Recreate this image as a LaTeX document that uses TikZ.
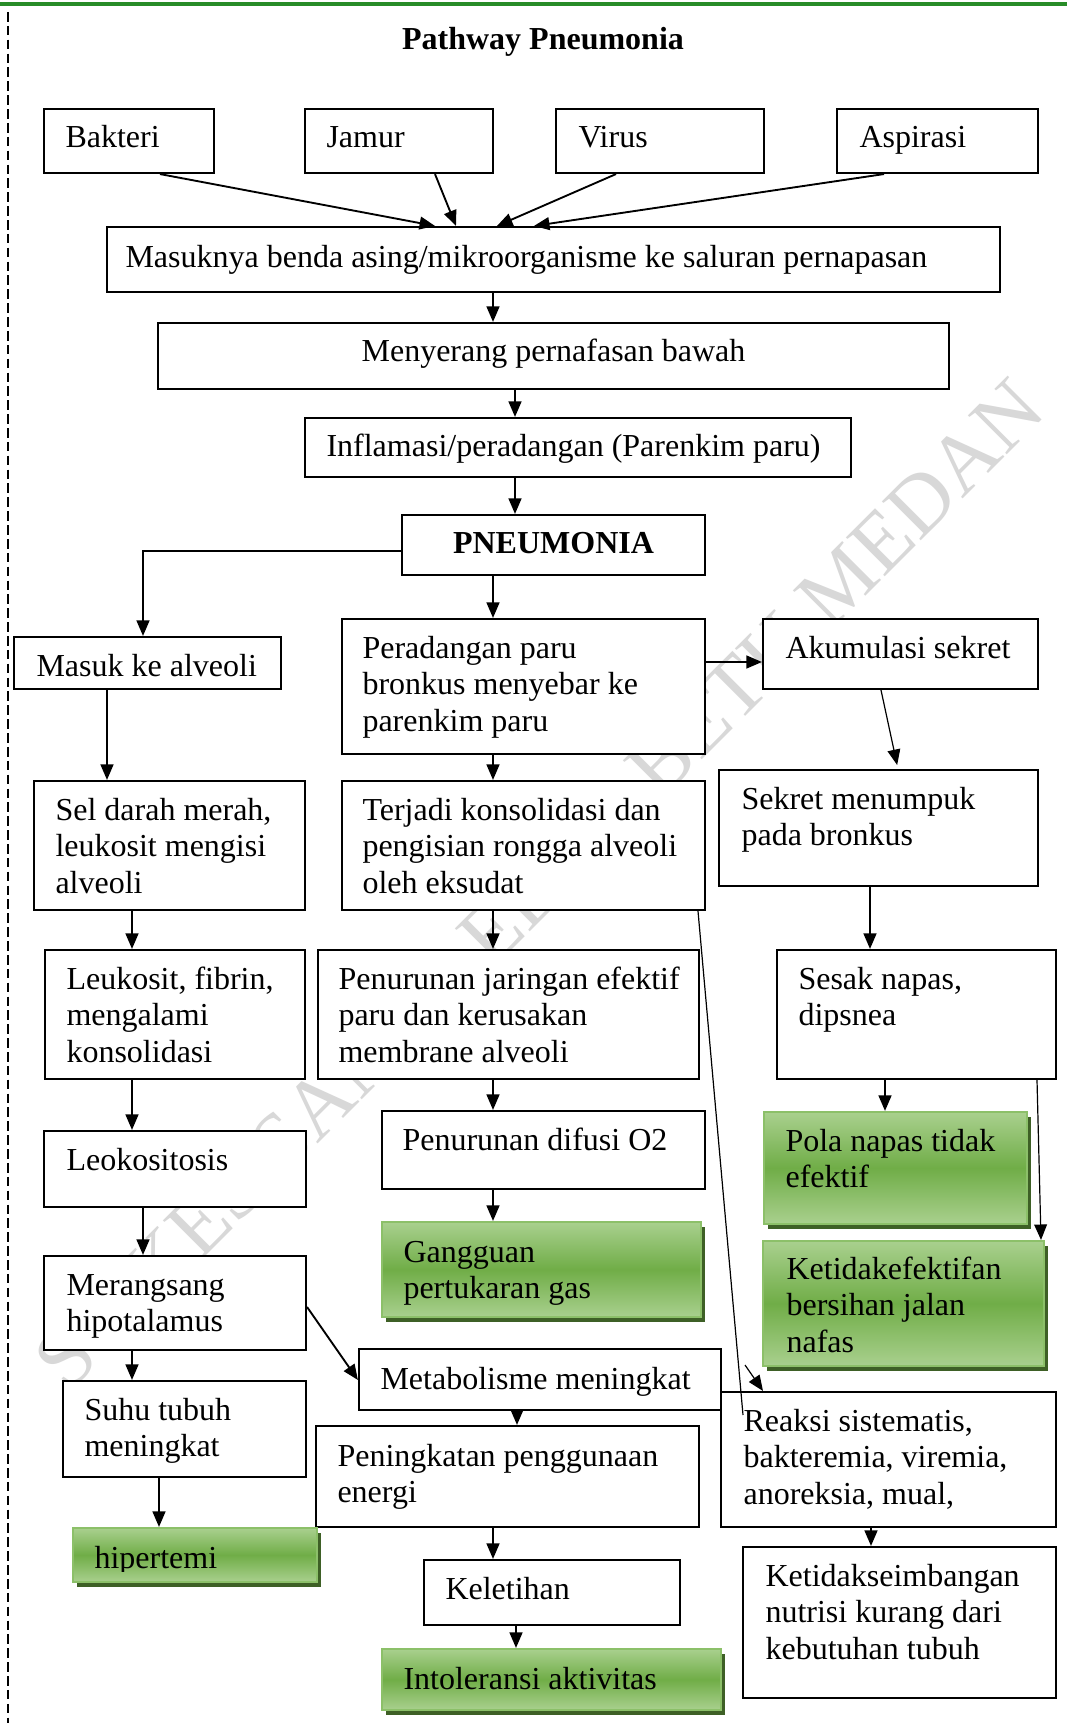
\documentclass[tikz,border=0pt]{standalone}
\usepackage{fontspec}
\setmainfont{Liberation Serif}
\usetikzlibrary{arrows.meta,fit}
\definecolor{glight}{RGB}{169,208,142}
\definecolor{gmid}{RGB}{112,173,71}
\definecolor{gborder}{RGB}{140,192,105}
\definecolor{gshadow}{RGB}{62,96,38}
\definecolor{topline}{RGB}{40,140,40}
\definecolor{wmark}{RGB}{216,216,216}
\newcommand{\plainfont}{\fontsize{12}{13.8}\selectfont}
\tikzset{
  box/.style={draw, line width=0.8pt, fill=white, inner sep=0pt},
  gbox/.style={draw=gborder, line width=0.8pt, top color=glight, bottom color=glight, middle color=gmid, inner sep=0pt},
  shad/.style={fill=gshadow},
  txt/.style={anchor=base west, inner sep=0pt, text width=330pt, font=\plainfont, execute at begin node={\spaceskip=0pt\xspaceskip=0pt\relax}},
  ctxt/.style={anchor=base, inner sep=0pt, font=\plainfont},
  arr/.style={line width=0.7pt, -{Triangle[length=5.8pt,width=4.8pt]}},
  tarr/.style={line width=0.45pt, -{Triangle[length=5.8pt,width=4.8pt]}},
}
\begin{document}
\begin{tikzpicture}[x=0.375pt, y=-0.375pt]
\useasboundingbox (0,0) rectangle (1067,1723);
\fill[white] (0,0) rectangle (1067,1723);
% watermark
\node[rotate=45, anchor=base west, inner sep=0pt, text=wmark, font=\fontsize{31.5}{31.5}\selectfont] (wm) at (68,1394) {STIKES SANTA ELISABETH MEDAN};
% page decorations
\draw[topline, line width=1.5pt] (0,4) -- (1067,4);
\draw[line width=0.5pt, dash pattern=on 3.6pt off 1.6pt] (8,12) -- (8,1723);
% title
\node[ctxt, font=\plainfont\bfseries] (title) at (543,50) {Pathway Pneumonia};

% boxes
\node[box, fit={(44,109)(214,173)}] (bak) {};
\node[box, fit={(305,109)(493,173)}] (jam) {};
\node[box, fit={(556,109)(764,173)}] (vir) {};
\node[box, fit={(837,109)(1038,173)}] (asp) {};
\node[box, fit={(107,227)(1000,292)}] (mas) {};
\node[box, fit={(158,323)(949,389)}] (men) {};
\node[box, fit={(305,418)(851,477)}] (inf) {};
\node[box, fit={(402,515)(705,575)}] (pne) {};
\node[box, fit={(14,637)(281,689)}] (mka) {};
\node[box, fit={(342,619)(705,754)}] (per) {};
\node[box, fit={(763,619)(1038,689)}] (aku) {};
\node[box, fit={(34,781)(305,910)}] (sel) {};
\node[box, fit={(342,781)(705,910)}] (ter) {};
\node[box, fit={(719,770)(1038,886)}] (sek) {};
\node[box, fit={(45,950)(305,1079)}] (leu) {};
\node[box, fit={(318,950)(699,1079)}] (pjn) {};
\node[box, fit={(777,950)(1056,1079)}] (ses) {};
\node[box, fit={(44,1131)(306,1207)}] (leo) {};
\node[box, fit={(382,1111)(705,1189)}] (pdo) {};
\node[box, fit={(44,1256)(306,1350)}] (mer) {};
\node[box, fit={(359,1349)(721,1410)}] (met) {};
\node[box, fit={(63,1381)(306,1477)}] (suh) {};
\node[box, fit={(721,1392)(1056,1527)}] (rea) {};
\node[box, fit={(316,1426)(699,1527)}] (pen) {};
\node[box, fit={(424,1560)(680,1625)}] (kel) {};
\node[box, fit={(743,1547)(1056,1698)}] (kse) {};

% green boxes with shadows
\fill[shad] (768,1117) rectangle (1031,1229);
\node[gbox, fit={(764,1112)(1027,1224)}] (pol) {};
\fill[shad] (767,1246) rectangle (1048,1371);
\node[gbox, fit={(763,1241)(1044,1366)}] (ket) {};
\fill[shad] (386,1227) rectangle (705,1322);
\node[gbox, fit={(382,1222)(701,1317)}] (gan) {};
\fill[shad] (77,1533) rectangle (321,1587);
\node[gbox, fit={(73,1528)(317,1582)}] (hip) {};
\fill[shad] (386,1654) rectangle (725,1715);
\node[gbox, fit={(382,1649)(721,1710)}] (int) {};

% texts
\node[txt] (bak-t) at (65,148) {Bakteri};
\node[txt] (jam-t) at (326,148) {Jamur};
\node[txt] (vir-t) at (578,148) {Virus};
\node[txt] (asp-t) at (859,148) {Aspirasi};
\node[txt] (mas-t) at (125,267) {Masuknya benda asing/mikroorganisme ke saluran pernapasan};
\node[ctxt] (men-t) at (553.5,361) {Menyerang pernafasan bawah};
\node[txt] (inf-t) at (326,456) {Inflamasi/peradangan (Parenkim paru)};
\node[ctxt, font=\plainfont\bfseries] (pne-t) at (553.5,553) {PNEUMONIA};
\node[txt] (mka-t) at (36,676) {Masuk ke alveoli};
\node[txt] (per-t) at (362,658) {Peradangan paru\\bronkus menyebar ke\\parenkim paru};
\node[txt] (aku-t) at (785,658) {Akumulasi sekret};
\node[txt] (sel-t) at (55,820) {Sel darah merah,\\leukosit mengisi\\alveoli};
\node[txt] (ter-t) at (362,820) {Terjadi konsolidasi dan\\pengisian rongga alveoli\\oleh eksudat};
\node[txt] (sek-t) at (741,809) {Sekret menumpuk\\pada bronkus};
\node[txt] (leu-t) at (66,989) {Leukosit, fibrin,\\mengalami\\konsolidasi};
\node[txt] (pjn-t) at (338,989) {Penurunan jaringan efektif\\paru dan kerusakan\\membrane alveoli};
\node[txt] (ses-t) at (798,989) {Sesak napas,\\dipsnea};
\node[txt] (leo-t) at (66,1170) {Leokositosis};
\node[txt] (pdo-t) at (402,1150) {Penurunan difusi O2};
\node[txt] (pol-t) at (785,1151) {Pola napas tidak\\efektif};
\node[txt] (gan-t) at (403,1262) {Gangguan\\pertukaran gas};
\node[txt] (ket-t) at (786,1279) {Ketidakefektifan\\bersihan jalan\\nafas};
\node[txt] (mer-t) at (66,1295) {Merangsang\\hipotalamus};
\node[txt] (met-t) at (380,1389) {Metabolisme meningkat};
\node[txt] (suh-t) at (84,1420) {Suhu tubuh\\meningkat};
\node[txt] (rea-t) at (743,1431) {Reaksi sistematis,\\bakteremia, viremia,\\anoreksia, mual,};
\node[txt] (pen-t) at (337,1466) {Peningkatan penggunaan\\energi};
\begin{scope}
\clip (73,1528) rectangle (317,1571);
\node[txt] (hip-t) at (94,1568) {hipertemi};
\end{scope}
\node[txt] (kel-t) at (445,1599) {Keletihan};
\node[txt] (kse-t) at (765,1586) {Ketidakseimbangan\\nutrisi kurang dari\\kebutuhan tubuh};
\node[txt] (int-t) at (403,1689) {Intoleransi aktivitas};

% connectors
\draw[arr] (bak.south -| 160,0) -- (mas.north -| 435,0);
\draw[arr] (jam.south -| 435,0) -- (mas.north -| 456,0);
\draw[arr] (vir.south -| 616,0) -- (mas.north -| 497,0);
\draw[arr] (asp.south -| 884,0) -- (mas.north -| 534,0);
\draw[arr] (mas.south -| 493,0) -- (men.north -| 493,0);
\draw[arr] (men.south -| 515,0) -- (inf.north -| 515,0);
\draw[arr] (inf.south -| 515,0) -- (pne.north -| 515,0);
\draw[arr] (pne.west |- 0,551) -| (mka.north -| 143,0);
\draw[arr] (pne.south -| 493,0) -- (per.north -| 493,0);
\draw[arr] (per.east |- 0,662) -- (aku.west |- 0,662);
\draw[tarr, shorten >=1.5pt] (aku.south -| 881,0) -- (sek.north -| 898,0);
\draw[arr] (mka.south -| 107,0) -- (sel.north -| 107,0);
\draw[arr] (per.south -| 493,0) -- (ter.north -| 493,0);
\draw[arr] (sel.south -| 132,0) -- (leu.north -| 132,0);
\draw[arr] (ter.south -| 493,0) -- (pjn.north -| 493,0);
\draw[arr] (sek.south -| 870,0) -- (ses.north -| 870,0);
\draw[arr] (leu.south -| 132,0) -- (leo.north -| 132,0);
\draw[arr] (pjn.south -| 493,0) -- (pdo.north -| 493,0);
\draw[arr] (ses.south -| 885,0) -- (pol.north -| 885,0);
\draw[tarr] (ses.south -| 1037,0) -- (ket.north -| 1041,0);
\draw[arr] (pdo.south -| 493,0) -- (gan.north -| 493,0);
\draw[arr] (leo.south -| 143,0) -- (mer.north -| 143,0);
\draw[arr] (mer.east |- 0,1307) -- (met.west |- 0,1380);
\draw[arr] (mer.south -| 132,0) -- (suh.north -| 132,0);
\draw[arr] (met.south -| 517,0) -- (pen.north -| 517,0);
\draw[arr] (suh.south -| 159,0) -- (hip.north -| 159,0);
\draw[arr] (pen.south -| 493,0) -- (kel.north -| 493,0);
\draw[arr] (kel.south -| 516,0) -- (int.north -| 516,0);
\draw[arr] (rea.south -| 871,0) -- (kse.north -| 871,0);
\coordinate (lend) at (743,1415);
\draw[line width=0.45pt] (ter.south -| 698,0) -- (lend);
\coordinate (sstart) at (745,1365);
\draw[tarr] (sstart) -- (rea.north -| 763,0);
\end{tikzpicture}
\end{document}
